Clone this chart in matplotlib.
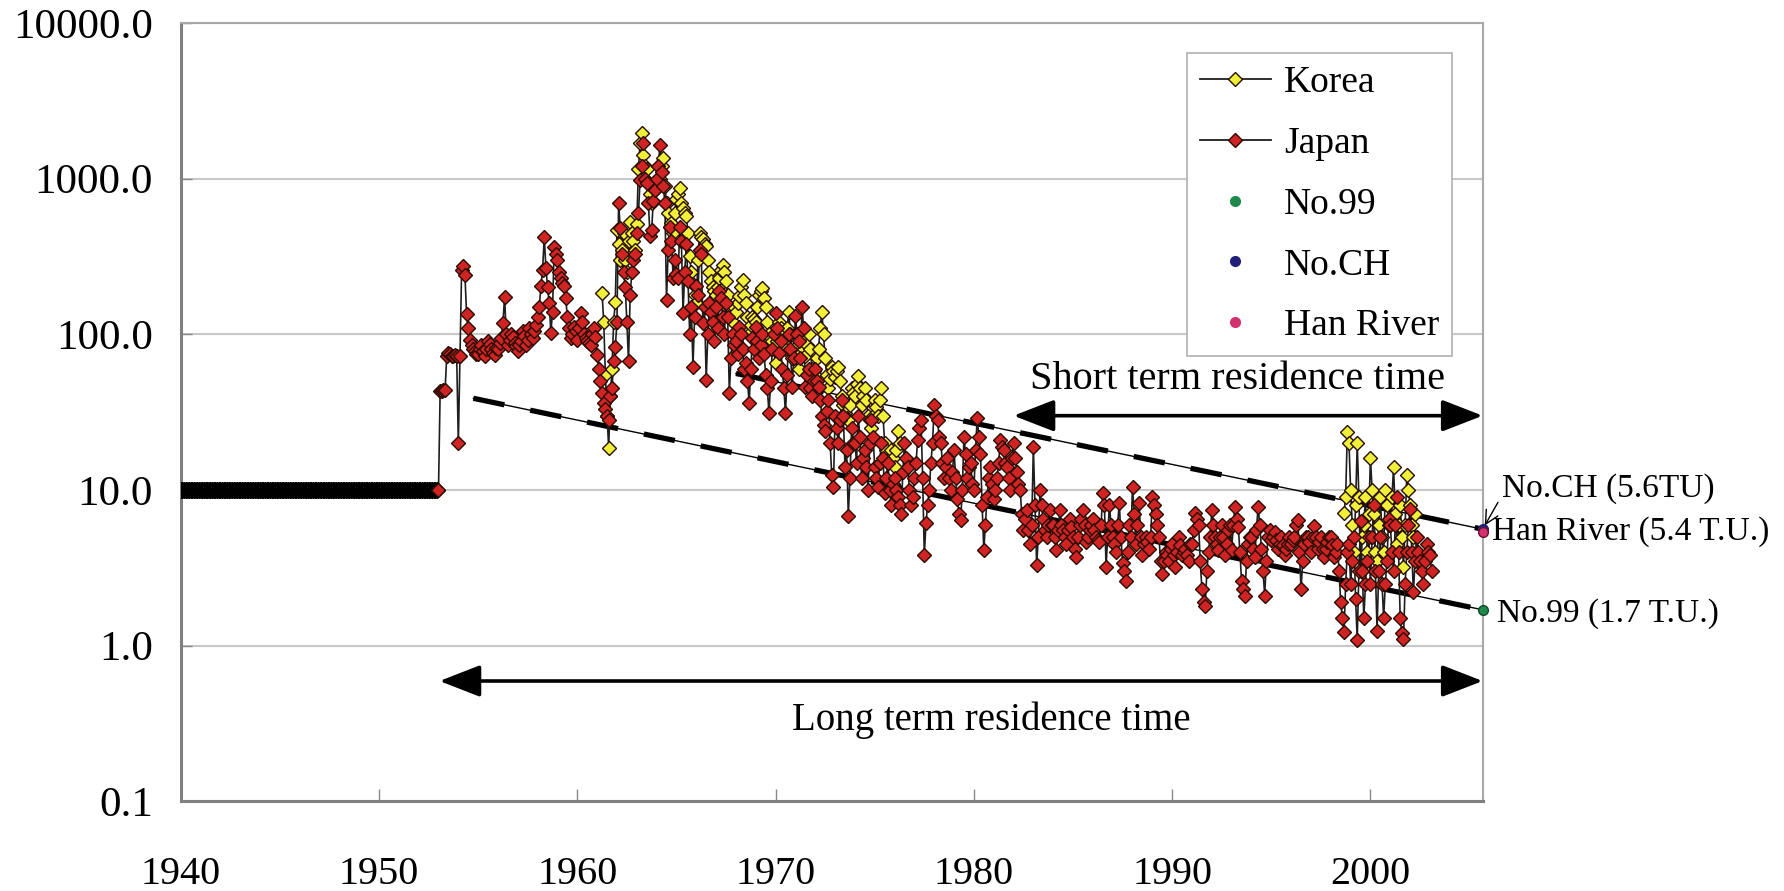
import numpy as np
import matplotlib.pyplot as plt
from matplotlib.lines import Line2D

plt.rcParams['font.family'] = ['Liberation Serif', 'DejaVu Serif']

nan = np.nan

# assumed input before the bomb tests (monthly, constant 10 TU)
pre_year = np.arange(1940, 1953, 1 / 12)
pre_tu = [10.0] * len(pre_year)

# Japan, monthly from 1953.0 (one row = one year)
japan_tu = [
    10, 43, 43, 44, 44, 73, 76, 75, 73, 72, 74, 73,               # 1953
    20, 72, 260, 275, 240, 135, 110, 92, 85, 80, 78, 75,          # 1954
    75, 80, 85, 78, 72, 80, 90, 86, 80, 76, 74, 82,               # 1955
    80, 88, 95, 119, 174, 100, 85, 92, 100, 96, 88, 84,           # 1956
    78, 85, 90, 105, 98, 85, 92, 110, 100, 95, 105, 115,          # 1957
    130, 150, 205, 260, 424, 267, 200, 160, 102, 140, 363, 330,   # 1958
    300, 250, 230, 215, 204, 170, 129, 110, 95, 100, 112, 105,    # 1959
    92, 110, 136, 120, 100, 95, 90, 88, 85, 100, 110, 96,         # 1960
    74, 60, 50, 42, 36, 33, 30, 28, 40, 45, 67, 83,               # 1961
    120, 700, 480, 330, 250, 200, 120, 67, 180, 250, 300, 330,    # 1962
    445, 600, 980, 1200, 1690, 1000, 930, 700, 430, 470, 720, 850,  # 1963
    1000, 1200, 1650, 1100, 900, 700, 166, 350, 490, 400, 230, 300,  # 1964
    245, 230, 490, 400, 136, 250, 380, 220, 101, 150, 62, 130,    # 1965
    204, 180, 350, 330, 118, 150, 51, 100, 160, 140, 120, 90,     # 1966
    150, 110, 190, 170, 129, 100, 160, 130, 42, 70, 100, 85,      # 1967
    90, 75, 112, 100, 80, 60, 65, 50, 36, 60, 95, 80,             # 1968
    112, 90, 70, 85, 100, 75, 55, 45, 31, 50, 80, 100,            # 1969
    138, 110, 76, 90, 60, 45, 31, 55, 100, 80, 46, 70,            # 1970
    132, 100, 90, 70, 150, 110, 46, 55, 60, 45, 40, 50,           # 1971
    60, 50, 46, 38, 30, 26, 24, 32, 38, 20, 12.4, 10.5,           # 1972
    30, 25, 20, 28, 38, 30, 14, 18, 6.8, 12, 25, 20,              # 1973
    20, 15, 30, 22, 12, 16, 18, 14, 10, 20, 28, 22,               # 1974
    14, 12, 10.5, 15, 20, 16, 9.6, 12, 15, 10, 8, 11,             # 1975
    12, 10, 9, 8, 7, 13, 20, 16, 14, 10, 8, 9,                    # 1976
    12, 15, 21, 25, 28, 12, 3.8, 6.1, 8, 10, 15, 20,              # 1977
    35, 30, 28, 22, 20, 15, 12, 14, 16, 12, 10, 13,               # 1978
    18, 12, 8.7, 7, 6.4, 10, 22, 17, 12, 14, 15, 11,              # 1979
    10, 18, 29, 22, 17, 8, 4.1, 6, 9, 12, 14, 11,                 # 1980
    8.7, 10, 12, 15, 21, 19, 18, 15, 14, 12, 10, 16,              # 1981
    20, 16, 13, 11, 10, 7, 5.5, 6.5, 7.4, 5.5, 4.5, 6,            # 1982
    19, 8, 3.3, 5, 10, 8, 6.5, 5.5, 5, 6, 7.4, 6,                 # 1983
    6, 5, 4.1, 5.5, 7.4, 6, 5.5, 5, 4.5, 5.5, 6.5, 5.8,           # 1984
    5, 4.2, 3.7, 5, 6, 6.5, 7.4, 6, 4.6, 5, 5.5, 6,               # 1985
    6.5, 5.5, 5, 4.8, 4.6, 6, 9.6, 8, 3.2, 5, 8, 6,               # 1986
    5, 4.5, 4, 6, 8.3, 5, 3.4, 3, 2.6, 4, 6, 5,                   # 1987
    10.5, 7, 4.5, 6, 8.3, 5, 3.8, 4.5, 5, 4.6, 4.2, 5,            # 1988
    9, 8, 7, 6, 5, 3.5, 2.9, 3.5, 4, 3.8, 3.5, 4.2,               # 1989
    4.5, 3.8, 3.2, 4, 5, 4.4, 3.8, 4, 4.2, 3.8, 3.5, 4.5,         # 1990
    4.5, 5.5, 7.1, 6.5, 6, 3.5, 2.3, 1.9, 1.8, 3, 4, 5,           # 1991
    7.4, 6, 5, 4.5, 4.1, 5, 6, 5, 3.8, 4.5, 5.5, 6,               # 1992
    4.1, 6, 7.8, 6.5, 5.8, 4, 2.6, 2.3, 2.1, 3.5, 4.5, 5,         # 1993
    5, 4.2, 3.7, 5.5, 7.8, 6, 4.2, 3, 2.1, 3.5, 5, 5.5,           # 1994
    4.8, 5, 5.4, 4.8, 4.2, 4.5, 5, 4.4, 3.8, 4.2, 4.5, 5,         # 1995
    4.5, 4.8, 5, 6, 6.4, 4, 2.3, 3.5, 4.5, 5, 5, 4.6,             # 1996
    4, 5, 5.9, 5, 4.2, 4.6, 5, 4.2, 3.7, 4.2, 4.6, 5,             # 1997
    5, 4.4, 3.7, 4, 4.5, 3, 1.9, 1.5, 1.23, 2.5, 4, 4.5,          # 1998
    2.5, 3.5, 5, 2, 1.09, 3, 6.3, 3, 1.5, 2.5, 3.5, 5,            # 1999
    2.5, 5, 8, 3, 1.25, 3, 5, 2.5, 1.5, 2.5, 3.5, 6.5,            # 2000
    6, 4, 3, 6, 9, 4, 1.5, 1.2, 1.1, 2.5, 4, 6,                   # 2001
    7.5, 4, 2.2, 3.5, 5, 4, 3.5, 3, 2.5, 3.5, 4.5, 4,             # 2002
    3.8, 3,                                                       # 2003
]
japan_year = 1953 + np.arange(len(japan_tu)) / 12

# Korea, first record, monthly from 1961.0
korea1_tu = [
    nan, nan, nan, 183, 120, 55, 30, 18.6, 40, 60, 120, 162,           # 1961
    468, 380, 300, 350, 445, 300, 250, 400, 525, 450, 400, 350,        # 1962
    513, 1160, 1690, 1950, 1420, 1200, 1160, 950, 800, 700, 900, 850,  # 1963
    900, 950, 1000, 1200, 1350, 900, 700, 600, 490, 520, 450, 600,     # 1964
    740, 800, 870, 700, 645, 600, 575, 450, 316, 250, 209, 180,        # 1965
    160, 300, 446, 420, 410, 380, 370, 300, 250, 220, 200, 190,        # 1966
    180, 200, 230, 260, 279, 250, 220, 180, 150, 130, 120, 150,        # 1967
    140, 160, 175, 200, 224, 180, 160, 130, 100, 115, 130, 125,        # 1968
    120, 150, 180, 190, 197, 170, 150, 120, 100, 95, 90, 80,           # 1969
    65, 90, 120, 110, 100, 90, 80, 110, 140, 100, 70, 80,              # 1970
    75, 70, 60, 75, 91, 80, 72, 85, 100, 80, 60, 58,                   # 1971
    55, 70, 81, 110, 140, 100, 70, 55, 45, 52, 62, 58,                 # 1972
    53, 58, 62, 50, 40, 35, 31, 29, 28, 35, 45, 42,                    # 1973
    40, 48, 54, 45, 35, 40, 45, 38, 30, 28, 25, 30,                    # 1974
    38, 34, 30, 38, 45, 30, 20, 18, 15, 16, 18, 16,                    # 1975
    14, 18, 24, 20,                                                    # 1976
]
korea1_year = 1961 + np.arange(len(korea1_tu)) / 12

# Korea, recent record, monthly from 1998.0
korea2_tu = [
    nan, nan, nan, nan, nan, nan, nan, nan, 7.1, 9, 23.7, 20,   # 1998
    10, 6, 4, 8, 20, 9, 3, 5, 6, 9, 4, 7,                       # 1999
    16, 10, 7, 4, 3.5, 6, 9, 5, 4, 10, 8, 6,                    # 2000
    6, 9, 14, 7, 4.5, 6, 8, 5, 3.2, 6, 12.5, 10,                # 2001
    8, 6, 5, 7, 3.5,                                            # 2002
]
korea2_year = 1998 + np.arange(len(korea2_tu)) / 12

# groundwater / river samples
x_end = 2005.66
no99_tu = 1.7
noch_tu = 5.6
han_tu = 5.4

# residence-time trend lines
long_trend_year = [1954.76, x_end]
long_trend_tu = [38.8, no99_tu]
short_trend_year = [1968.0, x_end]
short_trend_tu = [56.0, noch_tu]

fig = plt.figure(figsize=(17.84, 8.91), dpi=100)
ax = fig.add_axes([0.1013, 0.1006, 0.7298, 0.8737])

ax.set_yscale('log')
ax.set_ylim(0.1, 10000)
ax.set_xlim(1940, x_end)
ax.set_xticks(range(1940, 2001, 10))
ax.set_yticks([0.1, 1, 10, 100, 1000, 10000])
ax.set_yticklabels(['0.1', '1.0', '10.0', '100.0', '1000.0', '10000.0'])
ax.yaxis.set_minor_locator(plt.NullLocator())
ax.tick_params(axis='x', direction='in', length=9, width=1, color='#888888',
               labelsize=29, pad=39)
ax.tick_params(axis='y', direction='in', length=8, width=1, color='#888888',
               labelsize=31, pad=20)
ax.grid(axis='y', color='#c8c8c8', lw=1.5)
ax.set_axisbelow(True)
for s in ['left', 'bottom']:
    ax.spines[s].set_color('#808080')
    ax.spines[s].set_linewidth(2.2)
for s in ['top', 'right']:
    ax.spines[s].set_color('#a8a8a8')
    ax.spines[s].set_linewidth(1.5)

line_c = '#1e1e1e'
red = '#d02424'
yellow = '#eef03a'
edge = '#2a0d00'
ms = 7.6

# trend lines (thin solid + thick dashes)
for yr, tu in [(long_trend_year, long_trend_tu), (short_trend_year, short_trend_tu)]:
    ax.plot(yr, tu, color='black', lw=1, zorder=2)
    ax.plot(yr, tu, color='black', lw=3.8, dashes=(6, 5), zorder=2)

# connecting lines
ax.plot(np.r_[pre_year, japan_year], np.r_[pre_tu, japan_tu], color=line_c, lw=1.2, zorder=3)
ax.plot(korea1_year, korea1_tu, color=line_c, lw=1.2, zorder=3)
ax.plot(korea2_year, korea2_tu, color=line_c, lw=1.2, zorder=3)

ax.plot(pre_year, pre_tu, ls='none', marker='D', ms=8.5, mfc='black', mec='black', zorder=4)
ax.plot(korea1_year, korea1_tu, ls='none', marker='D', ms=ms, mfc=yellow, mec=edge, mew=1, zorder=4)
ax.plot(korea2_year, korea2_tu, ls='none', marker='D', ms=ms, mfc=yellow, mec=edge, mew=1, zorder=4)
ax.plot(japan_year, japan_tu, ls='none', marker='D', ms=ms, mfc=red, mec=edge, mew=1, zorder=5)

ax.plot([x_end], [no99_tu], 'o', ms=7, color='#1f8a4c', mec='#124a2a', clip_on=False, zorder=6)
ax.plot([x_end], [noch_tu], 'o', ms=7, color='#20207a', clip_on=False, zorder=6)
ax.plot([x_end], [han_tu], 'o', ms=7, color='#d4326e', mec='#6a1030', clip_on=False, zorder=6)

# residence time arrows
ax.annotate('', xy=(1982.0, 30), xytext=(x_end, 30),
            arrowprops=dict(arrowstyle='<|-|>,head_length=0.9,head_width=0.35',
                            color='black', lw=2.6, shrinkA=0, shrinkB=0, mutation_scale=28))
ax.text(1993.3, 51, 'Short term residence time', fontsize=29, ha='center', va='center')
ax.annotate('', xy=(1953.05, 0.593), xytext=(x_end, 0.593),
            arrowprops=dict(arrowstyle='<|-|>,head_length=0.9,head_width=0.35',
                            color='black', lw=2.6, shrinkA=0, shrinkB=0, mutation_scale=28))
ax.text(1980.9, 0.333, 'Long term residence time', fontsize=28, ha='center', va='center')

# sample labels
ax.annotate('No.CH (5.6TU)', xy=(x_end, noch_tu), xytext=(14, 29), textcoords='offset points',
            fontsize=24, ha='left', va='center', annotation_clip=False,
            arrowprops=dict(arrowstyle='->', color='black', lw=1, shrinkA=2, shrinkB=3,
                            relpos=(0, 0.3)))
ax.annotate('Han River (5.4 T.U.)', xy=(x_end, han_tu), xytext=(7, 0), textcoords='offset points',
            fontsize=24, ha='left', va='center', annotation_clip=False)
ax.annotate('No.99 (1.7 T.U.)', xy=(x_end, no99_tu), xytext=(10, -3), textcoords='offset points',
            fontsize=24, ha='left', va='center', annotation_clip=False)

handles = [
    Line2D([], [], color=line_c, lw=1.3, marker='D', ms=ms, mfc=yellow, mec=edge),
    Line2D([], [], color=line_c, lw=1.3, marker='D', ms=ms, mfc=red, mec=edge),
    Line2D([], [], ls='none', marker='o', ms=7, color='#1f8a4c'),
    Line2D([], [], ls='none', marker='o', ms=7, color='#20207a'),
    Line2D([], [], ls='none', marker='o', ms=7, color='#d4326e'),
]
leg = ax.legend(handles, ['Korea', 'Japan', 'No.99', 'No.CH', 'Han River'],
                loc='upper right', bbox_to_anchor=(0.9768, 0.9617), fontsize=27,
                frameon=True, fancybox=False, edgecolor='#b0b0b0', framealpha=1,
                handlelength=1.9, handletextpad=0.35, labelspacing=0.7,
                borderpad=0.35, borderaxespad=0)
leg.get_frame().set_linewidth(1.2)

fig.savefig('out.png', dpi=100)
